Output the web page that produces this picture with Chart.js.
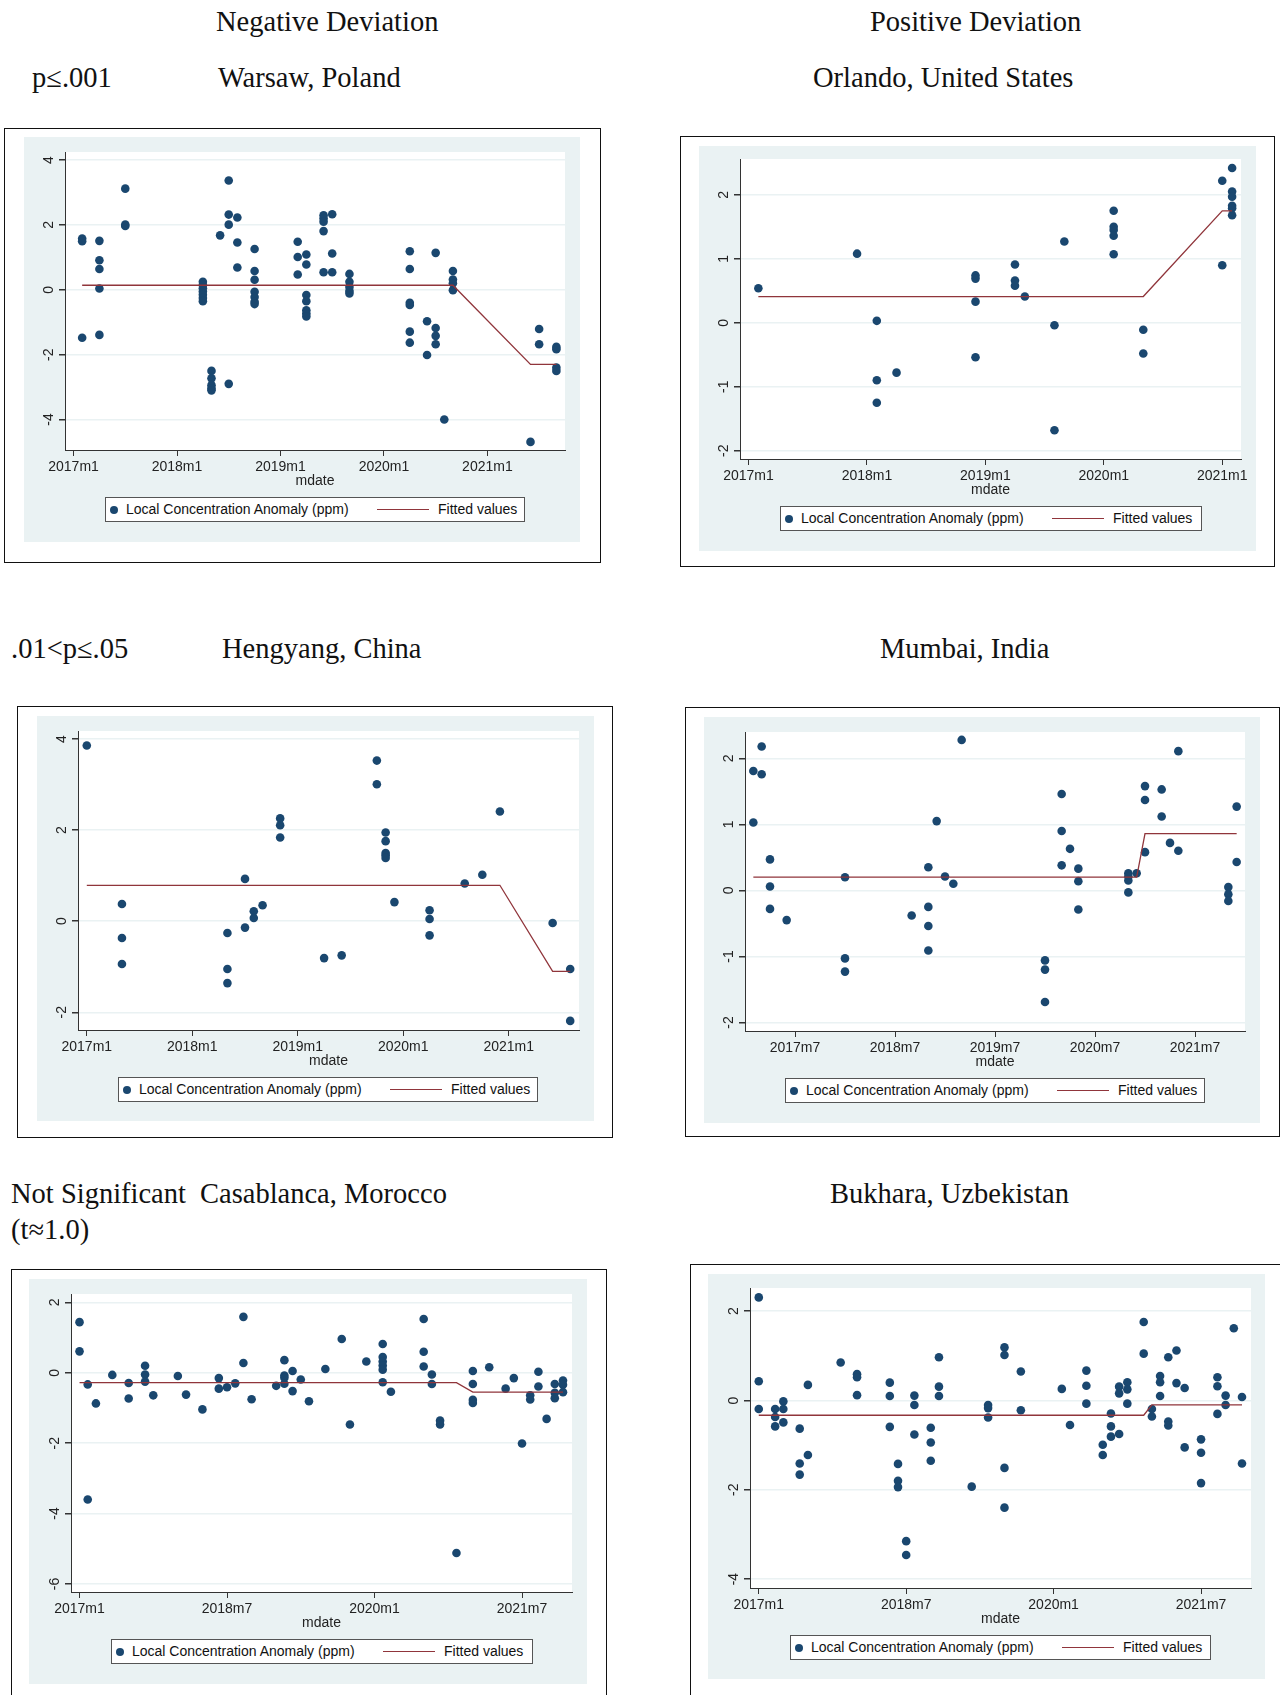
<!DOCTYPE html>
<html>
<head>
<meta charset="utf-8">
<script src="https://cdn.jsdelivr.net/npm/chart.js@4.4.1/dist/chart.umd.min.js"></script>
<style>
body { margin: 0; width: 1280px; height: 1695px; position: relative; overflow: hidden; background: #fff; font-family: "Liberation Sans", Arial, sans-serif; }
.hd { position: absolute; font-family: "Liberation Serif", "Times New Roman", serif; font-size: 28.5px; line-height: 28px; color: #111; white-space: nowrap; }
.frame { position: absolute; border: 1.5px solid #111; box-sizing: border-box; }
.bg { position: absolute; background: #eaf2f3; }
canvas { position: absolute; }
.leg { position: absolute; background: #fff; border: 1px solid #555; box-sizing: border-box; font-size: 14px; line-height: 23px; color: #111; white-space: nowrap; }
.leg span { position: absolute; top: 0; }
.leg .dot { top: 7.5px; left: 4px; width: 8px; height: 8px; border-radius: 50%; background: #1a476f; }
.leg .ln { top: 11px; left: 271px; width: 52px; height: 0; border-top: 1.3px solid #90353b; }
</style>
</head>
<body>
<div class="hd" style="left:216px;top:8px">Negative Deviation</div>
<div class="hd" style="left:870px;top:8px">Positive Deviation</div>
<div class="hd" style="left:32px;top:64px">p≤.001</div>
<div class="hd" style="left:218px;top:64px">Warsaw, Poland</div>
<div class="hd" style="left:813px;top:64px">Orlando, United States</div>
<div class="hd" style="left:11px;top:635px">.01&lt;p≤.05</div>
<div class="hd" style="left:222px;top:635px">Hengyang, China</div>
<div class="hd" style="left:880px;top:635px">Mumbai, India</div>
<div class="hd" style="left:11px;top:1180px">Not Significant</div>
<div class="hd" style="left:200px;top:1180px">Casablanca, Morocco</div>
<div class="hd" style="left:11px;top:1216px">(t≈1.0)</div>
<div class="hd" style="left:830px;top:1180px">Bukhara, Uzbekistan</div>

<script>
// months counted from 2017m1 = 0
const yearTicks = [0, 12, 24, 36, 48];
const yearTickLabels = ['2017m1', '2018m1', '2019m1', '2020m1', '2021m1'];
const julyTicks = [6, 18, 30, 42, 54];
const julyTickLabels = ['2017m7', '2018m7', '2019m7', '2020m7', '2021m7'];
const halfTicks = [0, 18, 36, 54];
const halfTickLabels = ['2017m1', '2018m7', '2020m1', '2021m7'];

// Warsaw
const warsawMonths = [1, 3, 6, 15, 16, 17, 18, 19, 21, 26, 27, 29, 30, 32, 39, 41, 42, 43, 44, 53, 54, 56];
const warsawValues = [
    [1.58, 1.5, -1.48], [1.51, 0.91, 0.64, 0.04, -1.39], [3.12, 2.01, 1.97],
    [0.25, 0.15, 0.05, -0.05, -0.15, -0.25, -0.35], [-2.5, -2.73, -2.94, -3.04, -3.1], [1.68],
    [3.37, 2.32, 2.01, -2.9], [2.23, 1.46, 0.69], [1.26, 0.58, 0.31, -0.06, -0.22, -0.37, -0.44],
    [1.48, 1.01, 0.47], [1.09, 0.78, -0.16, -0.35, -0.63, -0.73, -0.82], [2.3, 2.2, 2.1, 1.81, 0.54],
    [2.33, 1.12, 0.54], [0.49, 0.25, 0.09, -0.04, -0.11], [1.19, 0.64, -0.4, -0.47, -1.29, -1.63],
    [-0.97, -2.01], [1.14, -1.18, -1.42, -1.68], [-4.0], [0.58, 0.32, 0.2, -0.01], [-4.69],
    [-1.21, -1.68], [-1.76, -1.83, -2.4, -2.5]
];
const warsawFitMonths = [1, 44, 53, 56];
const warsawFitValues = [0.14, 0.14, -2.3, -2.3];
const warsawYTicks = [-4, -2, 0, 2, 4];

// Orlando
const orlandoMonths = [1, 11, 13, 15, 23, 27, 28, 31, 32, 37, 40, 48, 49];
const orlandoValues = [
    [0.54], [1.08], [0.03, -0.9, -1.25], [-0.78], [0.74, 0.69, 0.33, -0.54], [0.91, 0.66, 0.58],
    [0.41], [-0.04, -1.68], [1.27], [1.75, 1.5, 1.45, 1.36, 1.07], [-0.11, -0.48], [2.22, 0.9],
    [2.42, 2.05, 1.97, 1.83, 1.79, 1.68]
];
const orlandoFitMonths = [1, 40, 48, 49];
const orlandoFitValues = [0.41, 0.41, 1.75, 1.75];
const orlandoYTicks = [-2, -1, 0, 1, 2];

// Hengyang
const hengyangMonths = [0, 4, 16, 18, 19, 20, 22, 27, 29, 33, 34, 35, 39, 43, 45, 47, 53, 55];
const hengyangValues = [
    [3.86], [0.38, -0.37, -0.94], [-0.26, -1.05, -1.36], [0.93, -0.14], [0.22, 0.07], [0.35],
    [2.26, 2.11, 1.84], [-0.81], [-0.75], [3.53, 3.01], [1.95, 1.76, 1.5, 1.45, 1.39], [0.42],
    [0.24, 0.05, -0.31], [0.83], [1.02], [2.41], [-0.04], [-1.05, -2.19]
];
const hengyangFitMonths = [0, 47, 53, 55];
const hengyangFitValues = [0.79, 0.79, -1.1, -1.1];
const hengyangYTicks = [-2, 0, 2, 4];

// Mumbai
const mumbaiMonths = [1, 2, 3, 5, 12, 20, 22, 23, 24, 25, 26, 36, 38, 39, 40, 46, 47, 48, 50, 51, 52, 58, 59];
const mumbaiValues = [
    [1.81, 1.03], [2.18, 1.76], [0.47, 0.06, -0.28], [-0.45], [0.2, -1.03, -1.23], [-0.38],
    [0.35, -0.25, -0.54, -0.91], [1.05], [0.21], [0.1], [2.28], [-1.06, -1.2, -1.69],
    [1.46, 0.9, 0.38], [0.63], [0.33, 0.14, -0.29], [0.26, 0.21, 0.15, -0.03], [0.26],
    [1.58, 1.37, 0.58], [1.53, 1.12], [0.72], [2.11, 0.6], [0.05, -0.06, -0.16], [1.27, 0.43]
];
const mumbaiFitMonths = [1, 47, 48, 59];
const mumbaiFitValues = [0.2, 0.2, 0.86, 0.86];
const mumbaiYTicks = [-2, -1, 0, 1, 2];

// Casablanca
const casablancaMonths = [0, 1, 2, 4, 6, 8, 9, 12, 13, 15, 17, 18, 19, 20, 21, 24, 25, 26, 27, 28,
    30, 32, 33, 35, 37, 38, 42, 43, 44, 46, 48, 50, 52, 53, 54, 55, 56, 57, 58, 59];
const casablancaValues = [
    [1.44, 0.61], [-0.33, -3.6], [-0.87], [-0.06], [-0.29, -0.73], [0.2, -0.05, -0.25], [-0.64],
    [-0.09], [-0.62], [-1.04], [-0.15, -0.45], [-0.41], [-0.3], [1.59, 0.28], [-0.75], [-0.37],
    [0.36, -0.08, -0.14, -0.31], [0.05, -0.52], [-0.19], [-0.81],
    [0.11], [0.96], [-1.47], [0.32], [0.82, 0.45, 0.32, 0.21, 0.09, -0.27], [-0.54],
    [1.53, 0.6, 0.18], [-0.05, -0.32], [-1.36, -1.47], [-5.12], [0.05, -0.32, -0.77, -0.86],
    [0.16], [-0.45], [-0.15], [-2.01], [-0.64, -0.76], [0.03, -0.39], [-1.31],
    [-0.32, -0.57, -0.72], [-0.22, -0.34, -0.55]
];
const casablancaFitMonths = [0, 46, 48, 59];
const casablancaFitValues = [-0.28, -0.28, -0.55, -0.55];
const casablancaYTicks = [-6, -4, -2, 0, 2];

// Bukhara
const bukharaMonths = [0, 2, 3, 5, 6, 10, 12, 16, 17, 18, 19, 21, 22, 26, 28, 30, 32, 37, 38, 40,
    42, 43, 44, 45, 47, 48, 49, 50, 51, 52, 54, 56, 57, 58, 59];
const bukharaValues = [
    [2.31, 0.43, -0.19], [-0.19, -0.37, -0.58], [-0.02, -0.19, -0.49], [-0.63, -1.41, -1.66],
    [0.35, -1.22], [0.85], [0.59, 0.52, 0.12], [0.4, 0.1, -0.59], [-1.42, -1.8, -1.94],
    [-3.15, -3.46], [0.11, -0.1, -0.76], [-0.61, -0.94, -1.35], [0.97, 0.31, 0.1], [-1.93],
    [-0.1, -0.17, -0.38], [1.19, 1.02, -1.51, -2.4], [0.65, -0.22], [0.26], [-0.55],
    [0.67, 0.33, -0.07], [-0.99, -1.22], [-0.29, -0.58, -0.81], [0.31, 0.16, -0.75],
    [0.41, 0.25, -0.07], [1.76, 1.05], [-0.19, -0.36], [0.55, 0.41, 0.1], [0.97, -0.47, -0.56],
    [1.12, 0.39], [0.28, -1.05], [-0.87, -1.17, -1.85], [0.52, 0.32, -0.3], [0.11, -0.1],
    [1.62], [0.08, -1.41]
];
const bukharaFitMonths = [0, 47, 48, 59];
const bukharaFitValues = [-0.33, -0.33, -0.1, -0.1];
const bukharaYTicks = [-4, -2, 0, 2];

const NAVY = '#1a476f';
const MAROON = '#90353b';
const FONT = '"Liberation Sans", Arial, sans-serif';
const Y_AXIS_W = 30;
const X_AXIS_H = 40;

// layout of each panel: frame, grey backdrop, plot area, legend box (left, top, right, bottom)
const panels = [
    { months: warsawMonths, values: warsawValues, fitM: warsawFitMonths, fitV: warsawFitValues,
      xTicks: yearTicks, xLabels: yearTickLabels, yTicks: warsawYTicks, xMin: -0.99, xMax: 57, yMin: -4.94, yMax: 4.25,
      frame: [4, 128, 601, 563], bg: [24, 137, 580, 542], plot: [65, 152, 565, 450], legend: [105, 497, 525, 522] },
    { months: orlandoMonths, values: orlandoValues, fitM: orlandoFitMonths, fitV: orlandoFitValues,
      xTicks: yearTicks, xLabels: yearTickLabels, yTicks: orlandoYTicks, xMin: -0.86, xMax: 49.9, yMin: -2.13, yMax: 2.56,
      frame: [680, 136, 1275, 567], bg: [699, 146, 1256, 551], plot: [740, 159, 1241, 459], legend: [780, 506, 1202, 531] },
    { months: hengyangMonths, values: hengyangValues, fitM: hengyangFitMonths, fitV: hengyangFitValues,
      xTicks: yearTicks, xLabels: yearTickLabels, yTicks: hengyangYTicks, xMin: -1, xMax: 56, yMin: -2.39, yMax: 4.18,
      frame: [17, 706, 613, 1138], bg: [37, 716, 594, 1121], plot: [78, 731, 579, 1030], legend: [118, 1077, 538, 1102] },
    { months: mumbaiMonths, values: mumbaiValues, fitM: mumbaiFitMonths, fitV: mumbaiFitValues,
      xTicks: julyTicks, xLabels: julyTickLabels, yTicks: mumbaiYTicks, xMin: 0, xMax: 60, yMin: -2.13, yMax: 2.4,
      frame: [685, 707, 1280, 1137], bg: [704, 717, 1260, 1123], plot: [745, 732, 1245, 1031], legend: [785, 1078, 1205, 1103] },
    { months: casablancaMonths, values: casablancaValues, fitM: casablancaFitMonths, fitV: casablancaFitValues,
      xTicks: halfTicks, xLabels: halfTickLabels, yTicks: casablancaYTicks, xMin: -1.04, xMax: 60.1, yMin: -6.23, yMax: 2.24,
      frame: [11, 1269, 607, 1710], bg: [29, 1279, 587, 1684], plot: [71, 1294, 572, 1592], legend: [111, 1639, 533, 1664] },
    { months: bukharaMonths, values: bukharaValues, fitM: bukharaFitMonths, fitV: bukharaFitValues,
      xTicks: halfTicks, xLabels: halfTickLabels, yTicks: bukharaYTicks, xMin: -1.07, xMax: 60.1, yMin: -4.2, yMax: 2.52,
      frame: [690, 1264, 1290, 1710], bg: [708, 1274, 1265, 1679], plot: [750, 1288, 1251, 1588], legend: [790, 1635, 1211, 1660] }
];

function box(el, r) {
    el.style.left = r[0] + 'px';
    el.style.top = r[1] + 'px';
    el.style.width = (r[2] - r[0]) + 'px';
    el.style.height = (r[3] - r[1]) + 'px';
    document.body.appendChild(el);
    return el;
}

// white plot region like Stata's s2color
const plotBg = {
    id: 'plotBg',
    beforeDraw(chart) {
        const a = chart.chartArea;
        chart.ctx.save();
        chart.ctx.fillStyle = '#fff';
        chart.ctx.fillRect(a.left, a.top, a.width, a.height);
        chart.ctx.restore();
    }
};

// Stata prints y labels turned 90 degrees
const verticalYLabels = {
    id: 'verticalYLabels',
    afterDraw(chart) {
        const s = chart.scales.y, ctx = chart.ctx;
        ctx.save();
        ctx.font = '14px ' + FONT;
        ctx.fillStyle = '#222';
        ctx.textAlign = 'center';
        ctx.textBaseline = 'middle';
        s.ticks.forEach(t => {
            ctx.save();
            ctx.translate(chart.chartArea.left - 16, s.getPixelForValue(t.value));
            ctx.rotate(-Math.PI / 2);
            ctx.fillText(String(t.value), 0, 0);
            ctx.restore();
        });
        ctx.restore();
    }
};

function makePanel(p) {
    box(document.createElement('div'), p.frame).className = 'frame';
    box(document.createElement('div'), p.bg).className = 'bg';

    const canvas = document.createElement('canvas');
    const w = p.bg[2] - p.bg[0], h = p.bg[3] - p.bg[1];
    canvas.width = w;
    canvas.height = h;
    canvas.style.left = p.bg[0] + 'px';
    canvas.style.top = p.bg[1] + 'px';
    document.body.appendChild(canvas);

    const points = [];
    p.months.forEach((m, i) => p.values[i].forEach(v => points.push({ x: m, y: v })));
    const fit = p.fitM.map((m, i) => ({ x: m, y: p.fitV[i] }));

    new Chart(canvas.getContext('2d'), {
        type: 'scatter',
        data: {
            datasets: [
                { data: fit, showLine: true, borderColor: MAROON, borderWidth: 1.3, pointRadius: 0, order: 0 },
                { data: points, pointRadius: 4.3, pointBackgroundColor: NAVY, pointBorderWidth: 0, order: 1 }
            ]
        },
        options: {
            responsive: false, animation: false, devicePixelRatio: 1,
            layout: { padding: {
                left: p.plot[0] - p.bg[0] - Y_AXIS_W, top: p.plot[1] - p.bg[1],
                right: p.bg[2] - p.plot[2], bottom: p.bg[3] - p.plot[3] - X_AXIS_H
            } },
            plugins: { legend: { display: false }, tooltip: { enabled: false } },
            scales: {
                x: {
                    type: 'linear', min: p.xMin, max: p.xMax,
                    afterBuildTicks: s => { s.ticks = p.xTicks.map(v => ({ value: v })); },
                    afterFit: s => { s.height = X_AXIS_H; s.paddingLeft = 0; s.paddingRight = 0; },
                    ticks: { callback: v => p.xLabels[p.xTicks.indexOf(v)], font: { size: 14, family: FONT }, color: '#222', padding: 3, maxRotation: 0, autoSkip: false },
                    grid: { drawOnChartArea: false, tickLength: 6, tickColor: '#333' },
                    border: { color: '#333', width: 1 },
                    title: { display: true, text: 'mdate', font: { size: 14, family: FONT }, color: '#222', padding: { top: 0, bottom: 0 } }
                },
                y: {
                    min: p.yMin, max: p.yMax,
                    afterBuildTicks: s => { s.ticks = p.yTicks.map(v => ({ value: v })); },
                    afterFit: s => { s.width = Y_AXIS_W; s.paddingTop = 0; s.paddingBottom = 0; },
                    ticks: { color: 'rgba(0,0,0,0)', font: { size: 14, family: FONT } },
                    grid: { color: '#eaf2f3', lineWidth: 1.5, tickLength: 6, tickColor: '#333' },
                    border: { color: '#333', width: 1 }
                }
            }
        },
        plugins: [plotBg, verticalYLabels]
    });

    const leg = box(document.createElement('div'), p.legend);
    leg.className = 'leg';
    leg.innerHTML = '<span class="dot"></span><span style="left:20px">Local Concentration Anomaly (ppm)</span>' +
        '<span class="ln"></span><span style="left:332px">Fitted values</span>';
}

panels.forEach(makePanel);
</script>
</body>
</html>
